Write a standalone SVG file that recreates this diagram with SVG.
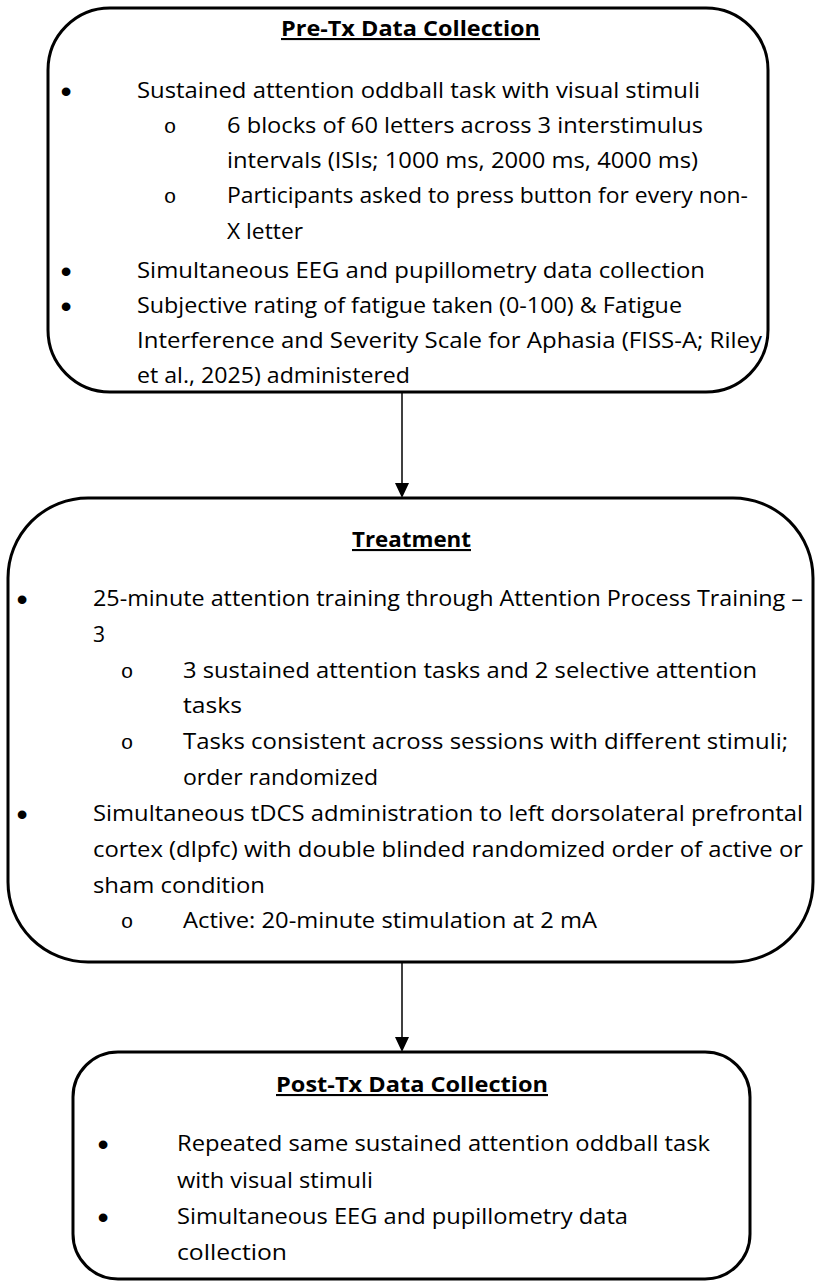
<svg xmlns="http://www.w3.org/2000/svg" width="821" height="1288" viewBox="0 0 821 1288">
<defs>
<style>
.box{fill:#fff;stroke:#000;stroke-width:3}
.t{font-family:"Open Sans","Liberation Sans",sans-serif;font-size:21px;fill:#000}
.h{font-family:"Open Sans","Liberation Sans",sans-serif;font-size:21px;font-weight:bold;fill:#000;text-decoration:underline}
.b{font-family:"Liberation Sans",sans-serif;font-size:32px;fill:#000;text-anchor:middle}
.o{font-family:"Liberation Mono",monospace;font-size:21px;fill:#000;text-anchor:middle}
.con{stroke:#000;stroke-width:1.5;fill:none}
</style>
</defs>
<rect width="821" height="1288" fill="#fff"/>

<g id="connectors">
<line class="con" x1="402" y1="392" x2="402" y2="483"/>
<path d="M395,483 L409,483 L402,498 Z" fill="#000"/>
<line class="con" x1="402" y1="962" x2="402" y2="1037"/>
<path d="M395,1037 L409,1037 L402,1052 Z" fill="#000"/>
</g>

<g id="pre-tx">
<rect class="box" x="48" y="8" width="720" height="384" rx="62" ry="62"/>
<text class="h" x="281" y="36" textLength="259" lengthAdjust="spacingAndGlyphs">Pre-Tx Data Collection</text>
<text class="b" x="66" y="102">•</text>
<text class="t" x="137" y="98" textLength="563" lengthAdjust="spacingAndGlyphs">Sustained attention oddball task with visual stimuli</text>
<text class="o" x="170" y="133">o</text>
<text class="t" x="227" y="133" textLength="476" lengthAdjust="spacingAndGlyphs">6 blocks of 60 letters across 3 interstimulus</text>
<text class="t" x="227" y="168" textLength="471" lengthAdjust="spacingAndGlyphs">intervals (ISIs; 1000 ms, 2000 ms, 4000 ms)</text>
<text class="o" x="170" y="203">o</text>
<text class="t" x="227" y="203" textLength="521" lengthAdjust="spacingAndGlyphs">Participants asked to press button for every non-</text>
<text class="t" x="227" y="239" textLength="76" lengthAdjust="spacingAndGlyphs">X letter</text>
<text class="b" x="66" y="282">•</text>
<text class="t" x="137" y="278" textLength="568" lengthAdjust="spacingAndGlyphs">Simultaneous EEG and pupillometry data collection</text>
<text class="b" x="66" y="317">•</text>
<text class="t" x="137" y="313" textLength="545" lengthAdjust="spacingAndGlyphs">Subjective rating of fatigue taken (0-100) &amp; Fatigue</text>
<text class="t" x="137" y="348" textLength="625" lengthAdjust="spacingAndGlyphs">Interference and Severity Scale for Aphasia (FISS-A; Riley</text>
<text class="t" x="137" y="383" textLength="273" lengthAdjust="spacingAndGlyphs">et al., 2025) administered</text>
</g>

<g id="treatment">
<rect class="box" x="8" y="498" width="805" height="464" rx="80" ry="80"/>
<text class="h" x="352" y="547" textLength="119" lengthAdjust="spacingAndGlyphs">Treatment</text>
<text class="b" x="22" y="610">•</text>
<text class="t" x="93" y="606" textLength="710" lengthAdjust="spacingAndGlyphs">25-minute attention training through Attention Process Training –</text>
<text class="t" x="93" y="642">3</text>
<text class="o" x="127" y="678">o</text>
<text class="t" x="183" y="678" textLength="574" lengthAdjust="spacingAndGlyphs">3 sustained attention tasks and 2 selective attention</text>
<text class="t" x="183" y="713" textLength="59" lengthAdjust="spacingAndGlyphs">tasks</text>
<text class="o" x="127" y="749">o</text>
<text class="t" x="183" y="749" textLength="605" lengthAdjust="spacingAndGlyphs">Tasks consistent across sessions with different stimuli;</text>
<text class="t" x="183" y="785" textLength="195" lengthAdjust="spacingAndGlyphs">order randomized</text>
<text class="b" x="22" y="825">•</text>
<text class="t" x="93" y="821" textLength="710" lengthAdjust="spacingAndGlyphs">Simultaneous tDCS administration to left dorsolateral prefrontal</text>
<text class="t" x="93" y="857" textLength="710" lengthAdjust="spacingAndGlyphs">cortex (dlpfc) with double blinded randomized order of active or</text>
<text class="t" x="93" y="893" textLength="172" lengthAdjust="spacingAndGlyphs">sham condition</text>
<text class="o" x="127" y="928">o</text>
<text class="t" x="183" y="928" textLength="414" lengthAdjust="spacingAndGlyphs">Active: 20-minute stimulation at 2 mA</text>
</g>

<g id="post-tx">
<rect class="box" x="73" y="1052" width="677" height="227" rx="45" ry="45"/>
<text class="h" x="276" y="1092" textLength="272" lengthAdjust="spacingAndGlyphs">Post-Tx Data Collection</text>
<text class="b" x="103" y="1155">•</text>
<text class="t" x="177" y="1151" textLength="533" lengthAdjust="spacingAndGlyphs">Repeated same sustained attention oddball task</text>
<text class="t" x="177" y="1188" textLength="196" lengthAdjust="spacingAndGlyphs">with visual stimuli</text>
<text class="b" x="103" y="1228">•</text>
<text class="t" x="177" y="1224" textLength="451" lengthAdjust="spacingAndGlyphs">Simultaneous EEG and pupillometry data</text>
<text class="t" x="177" y="1260" textLength="110" lengthAdjust="spacingAndGlyphs">collection</text>
</g>
</svg>
